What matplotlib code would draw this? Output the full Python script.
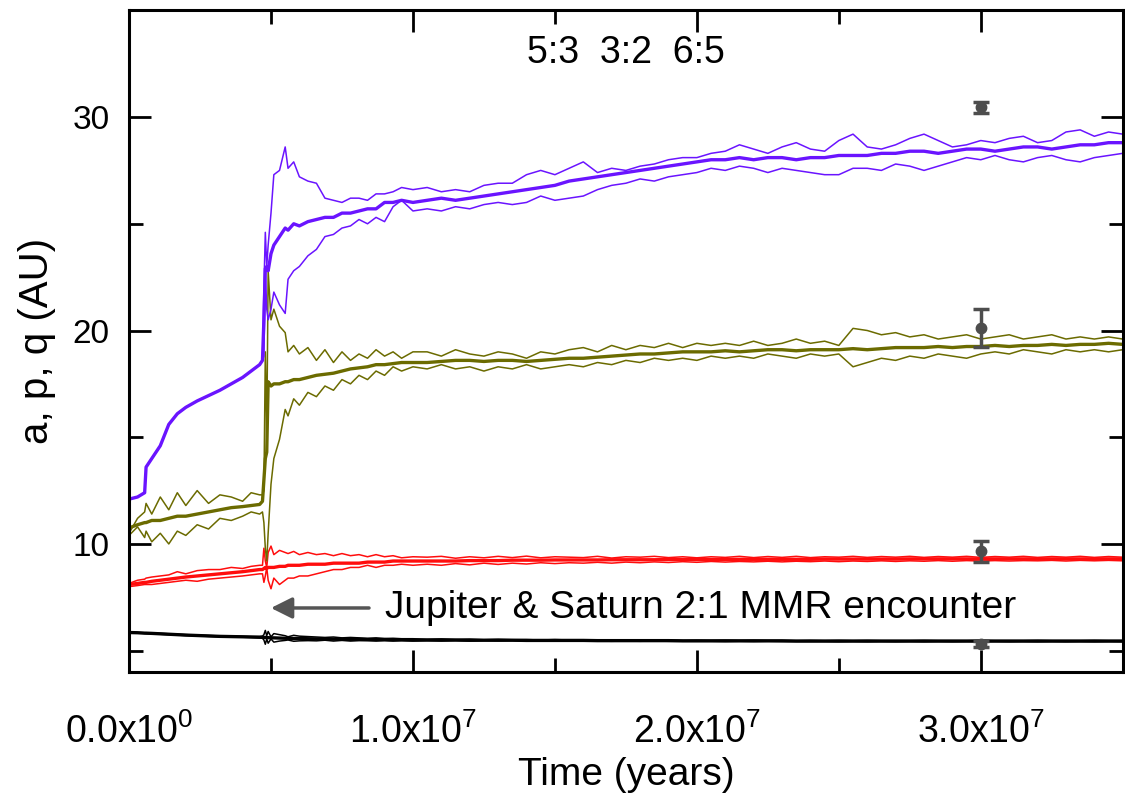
import numpy as np
import matplotlib
matplotlib.use("Agg")
import matplotlib.pyplot as plt
from matplotlib.ticker import MultipleLocator, FuncFormatter

plt.rcParams['font.family'] = ['Liberation Sans', 'DejaVu Sans']
plt.rcParams['mathtext.default'] = 'regular'

# time grids (Myr): before encounter, encounter, late
t_pre = [0, 0.3, 0.55, 0.6, 0.8, 1.1, 1.4, 1.7, 2.0, 2.4, 2.8, 3.2, 3.6, 4.0, 4.3, 4.6, 4.7]
t_enc = [4.75, 4.8, 4.85, 4.9, 5.0, 5.1, 5.3, 5.5, 5.6, 5.8, 6.0, 6.3, 6.6, 6.9, 7.2, 7.5,
         7.8, 8.1, 8.4, 8.7, 9.0, 9.3, 9.6, 10.0]
t_late = list(np.arange(10.5, 35.01, 0.5))

# outer ice giant (purple): a, Q (aphelion), q (perihelion)
purple_pre = [12.1, 12.2, 12.4, 13.6, 14.0, 14.6, 15.6, 16.1, 16.4, 16.7, 16.95, 17.2, 17.5,
              17.8, 18.1, 18.4, 18.6]
purple_a = [20.5, 22.9, 23.0, 22.8, 23.6, 24.0, 24.4, 24.8, 24.7, 25.0, 24.9, 25.1, 25.2, 25.3,
            25.3, 25.5, 25.5, 25.6, 25.7, 25.7, 26.0, 26.0, 26.1, 26.0,
            26.1, 26.2, 26.1, 26.2, 26.3, 26.4, 26.5, 26.6, 26.7, 26.8,
            27.0, 27.1, 27.2, 27.3, 27.4, 27.5, 27.6, 27.7, 27.8, 27.9,
            28.0, 28.0, 28.1, 28.0, 28.1, 28.1, 28.0, 28.1, 28.1, 28.2,
            28.2, 28.2, 28.3, 28.3, 28.4, 28.4, 28.3, 28.4, 28.5, 28.5,
            28.4, 28.5, 28.6, 28.6, 28.5, 28.6, 28.7, 28.7, 28.8, 28.8]
purple_Q = [22.0, 24.6, 23.0, 24.0, 25.5, 27.3, 27.5, 28.6, 27.6, 27.9, 27.2, 27.0, 26.9, 26.2,
            26.1, 26.0, 26.2, 26.2, 26.1, 26.4, 26.4, 26.5, 26.7, 26.6,
            26.7, 26.5, 26.6, 26.5, 26.8, 26.9, 26.9, 27.3, 27.5, 27.3,
            27.6, 27.9, 27.4, 27.6, 27.5, 27.7, 27.8, 28.0, 28.1, 28.1,
            28.3, 28.4, 28.7, 28.5, 28.3, 28.6, 28.8, 28.5, 28.4, 28.9,
            29.2, 28.6, 28.5, 28.7, 29.0, 29.2, 28.9, 28.6, 28.7, 28.9,
            28.8, 29.0, 29.1, 28.8, 28.9, 29.3, 29.4, 29.1, 29.3, 29.2]
purple_q = [18.8, 22.8, 21.0, 20.5, 21.0, 21.8, 21.2, 20.8, 22.4, 22.8, 23.0, 23.5, 23.8, 24.4,
            24.5, 24.8, 24.9, 25.2, 25.0, 25.3, 25.1, 25.8, 26.1, 25.6,
            25.7, 25.6, 25.8, 25.7, 25.9, 26.0, 25.9, 26.0, 26.3, 26.1,
            26.2, 26.3, 26.6, 26.8, 26.9, 27.1, 27.0, 27.2, 27.3, 27.4,
            27.6, 27.5, 27.7, 27.6, 27.4, 27.6, 27.5, 27.4, 27.3, 27.3,
            27.6, 27.6, 27.5, 27.8, 27.7, 27.5, 27.7, 27.9, 28.1, 28.0,
            28.2, 28.0, 27.9, 28.1, 28.2, 28.0, 27.9, 28.1, 28.2, 28.3]

# inner ice giant (olive)
olive_a = [10.75, 10.9, 11.0, 11.0, 11.1, 11.1, 11.2, 11.3, 11.3, 11.4, 11.5, 11.6, 11.7, 11.75,
           11.8, 11.85, 12.0,
           13.0, 14.0, 14.3, 17.6, 17.4, 17.5, 17.5, 17.6, 17.6, 17.7, 17.7, 17.8, 17.9, 17.95,
           18.0, 18.1, 18.2, 18.25, 18.3, 18.4, 18.4, 18.45, 18.5, 18.5,
           18.5, 18.55, 18.6, 18.6, 18.55, 18.6, 18.6, 18.55, 18.6, 18.65,
           18.7, 18.7, 18.75, 18.8, 18.85, 18.9, 18.9, 18.95, 19.0, 19.0,
           19.0, 19.05, 19.0, 19.05, 19.1, 19.1, 19.05, 19.1, 19.1, 19.1,
           19.15, 19.1, 19.15, 19.2, 19.2, 19.2, 19.25, 19.2, 19.25, 19.25,
           19.3, 19.25, 19.3, 19.3, 19.35, 19.3, 19.35, 19.35, 19.4, 19.35]
olive_Q = [10.5, 11.2, 11.5, 11.9, 11.4, 12.2, 11.6, 12.4, 11.8, 12.5, 11.9, 12.3, 12.2, 12.0,
           12.4, 12.3, 12.3,
           12.5, 19.0, 15.0, 22.8, 20.5, 21.0, 20.2, 19.9, 19.0, 19.3, 18.9, 19.2, 18.6, 19.1,
           18.5, 19.0, 18.6, 18.9, 18.7, 19.1, 18.8, 19.0, 18.7, 19.0,
           19.0, 18.8, 19.1, 18.9, 18.8, 19.0, 18.9, 18.7, 19.0, 18.9,
           19.1, 19.2, 19.0, 19.3, 19.1, 19.3, 19.2, 19.4, 19.2, 19.4,
           19.3, 19.4, 19.3, 19.5, 19.3, 19.4, 19.6, 19.4, 19.5, 19.3,
           20.1, 20.0, 19.8, 19.9, 19.7, 19.8, 19.6, 19.7, 19.8, 19.6,
           19.7, 19.8, 19.6, 19.7, 19.8, 19.6, 19.7, 19.6, 19.7, 19.6]
olive_q = [10.4, 10.8, 10.3, 10.6, 10.1, 10.5, 10.0, 10.6, 10.4, 10.9, 10.7, 11.2, 11.1, 11.3,
           11.5, 11.4, 11.5,
           11.0, 9.8, 9.2, 10.5, 12.8, 14.0, 14.9, 16.3, 16.0, 16.8, 16.5, 17.1, 16.9, 17.4,
           17.2, 17.7, 17.5, 17.9, 17.7, 18.1, 17.9, 18.3, 18.1, 18.3,
           18.2, 18.4, 18.2, 18.3, 18.1, 18.3, 18.2, 18.4, 18.2, 18.3,
           18.4, 18.3, 18.5, 18.4, 18.6, 18.5, 18.7, 18.6, 18.7, 18.6,
           18.8, 18.7, 18.8, 18.7, 18.9, 18.8, 18.7, 18.9, 18.8, 18.9,
           18.3, 18.5, 18.7, 18.6, 18.8, 18.7, 18.9, 18.8, 18.7, 18.9,
           19.0, 18.9, 19.1, 19.0, 18.9, 19.1, 19.0, 19.1, 19.0, 19.1]

# Saturn (red)
red_a = [8.1, 8.15, 8.2, 8.2, 8.25, 8.3, 8.35, 8.4, 8.45, 8.5, 8.55, 8.6, 8.65, 8.7, 8.75, 8.8, 8.8,
         8.85, 8.9, 8.85, 8.9, 8.9, 8.9, 8.95, 8.95, 9.0, 9.0, 9.0, 9.05, 9.05, 9.05, 9.1, 9.1,
         9.1, 9.1, 9.15, 9.15, 9.15, 9.2, 9.2, 9.2,
         9.2, 9.2, 9.2, 9.22, 9.22, 9.22, 9.24, 9.24, 9.24, 9.25,
         9.25, 9.25, 9.25, 9.26, 9.26, 9.26, 9.26, 9.27, 9.27, 9.27,
         9.27, 9.27, 9.28, 9.28, 9.28, 9.28, 9.28, 9.28, 9.29, 9.29,
         9.29, 9.29, 9.29, 9.29, 9.3, 9.3, 9.3, 9.3, 9.3, 9.3,
         9.3, 9.3, 9.3, 9.3, 9.3, 9.3, 9.3, 9.3, 9.3, 9.3]
red_Q = [8.15, 8.3, 8.35, 8.4, 8.45, 8.5, 8.55, 8.7, 8.6, 8.75, 8.8, 8.8, 8.9, 8.85, 8.95, 9.0, 9.0,
         9.8, 9.2, 8.9, 9.6, 9.9, 9.5, 9.7, 9.6, 9.55, 9.65, 9.5, 9.6, 9.5, 9.55, 9.45, 9.55,
         9.45, 9.5, 9.4, 9.5, 9.4, 9.45, 9.35, 9.4,
         9.38, 9.42, 9.33, 9.4, 9.35, 9.42, 9.36, 9.43, 9.35, 9.4,
         9.38, 9.36, 9.42, 9.34, 9.4, 9.38, 9.42, 9.36, 9.4, 9.35,
         9.4, 9.37, 9.42, 9.36, 9.41, 9.37, 9.42, 9.36, 9.4, 9.38,
         9.42, 9.37, 9.41, 9.38, 9.42, 9.37, 9.41, 9.38, 9.42, 9.37,
         9.41, 9.38, 9.42, 9.37, 9.41, 9.38, 9.42, 9.37, 9.41, 9.38]
red_q = [8.0, 8.05, 8.1, 8.1, 8.1, 8.15, 8.2, 8.25, 8.3, 8.25, 8.35, 8.4, 8.45, 8.5, 8.55, 8.6, 8.6,
         8.2, 8.5, 8.9, 8.3, 7.9, 8.4, 8.1, 8.3, 8.4, 8.4, 8.5, 8.5, 8.6, 8.7, 8.8, 8.8,
         8.9, 8.9, 9.0, 8.9, 9.0, 9.0, 9.05, 9.0,
         9.05, 9.0, 9.08, 9.02, 9.1, 9.04, 9.1, 9.06, 9.12, 9.08,
         9.12, 9.1, 9.14, 9.1, 9.15, 9.12, 9.16, 9.13, 9.17, 9.14,
         9.18, 9.15, 9.18, 9.16, 9.19, 9.16, 9.19, 9.17, 9.2, 9.17,
         9.2, 9.18, 9.21, 9.18, 9.21, 9.19, 9.22, 9.19, 9.22, 9.2,
         9.22, 9.2, 9.22, 9.21, 9.23, 9.2, 9.23, 9.21, 9.23, 9.21]

# Jupiter (black)
black_a = [5.85, 5.84, 5.82, 5.82, 5.81, 5.79, 5.77, 5.75, 5.73, 5.71, 5.69, 5.67, 5.66, 5.65,
           5.64, 5.63, 5.63,
           5.62, 5.62, 5.61, 5.61, 5.6, 5.6, 5.59, 5.58, 5.58, 5.57, 5.57, 5.56, 5.55, 5.55,
           5.54, 5.54, 5.53, 5.53, 5.52, 5.52, 5.52, 5.51, 5.51, 5.5,
           5.5, 5.5, 5.5, 5.49, 5.49, 5.49, 5.49, 5.48, 5.48, 5.48,
           5.48, 5.48, 5.47, 5.47, 5.47, 5.47, 5.47, 5.47, 5.46, 5.46,
           5.46, 5.46, 5.46, 5.46, 5.46, 5.46, 5.45, 5.45, 5.45, 5.45,
           5.45, 5.45, 5.45, 5.45, 5.45, 5.45, 5.45, 5.45, 5.45, 5.45,
           5.45, 5.45, 5.45, 5.45, 5.45, 5.45, 5.45, 5.45, 5.45, 5.45]
black_Q = [5.86, 5.85, 5.84, 5.84, 5.83, 5.81, 5.79, 5.77, 5.75, 5.73, 5.71, 5.69, 5.68, 5.67,
           5.66, 5.66, 5.68,
           5.75, 5.95, 5.7, 5.9, 5.65, 5.8, 5.75, 5.7, 5.65, 5.72, 5.68, 5.66, 5.64, 5.62,
           5.64, 5.6, 5.62, 5.6, 5.58, 5.6, 5.57, 5.58, 5.56, 5.56,
           5.53, 5.55, 5.52, 5.54, 5.51, 5.53, 5.51, 5.52, 5.5, 5.52,
           5.5, 5.51, 5.49, 5.51, 5.49, 5.5, 5.49, 5.5, 5.48, 5.49,
           5.48, 5.49, 5.48, 5.49, 5.48, 5.48, 5.47, 5.48, 5.47, 5.48,
           5.47, 5.48, 5.47, 5.47, 5.47, 5.48, 5.47, 5.47, 5.47, 5.48,
           5.47, 5.47, 5.47, 5.48, 5.47, 5.47, 5.47, 5.48, 5.47, 5.47]
black_q = [5.84, 5.83, 5.81, 5.8, 5.79, 5.77, 5.75, 5.73, 5.71, 5.69, 5.67, 5.65, 5.64, 5.63,
           5.62, 5.6, 5.58,
           5.5, 5.3, 5.55, 5.35, 5.55, 5.4, 5.45, 5.48, 5.5, 5.44, 5.46, 5.47, 5.46, 5.49,
           5.45, 5.48, 5.45, 5.47, 5.47, 5.45, 5.47, 5.45, 5.47, 5.45,
           5.47, 5.45, 5.47, 5.45, 5.47, 5.46, 5.47, 5.45, 5.46, 5.45,
           5.46, 5.45, 5.45, 5.44, 5.45, 5.44, 5.45, 5.44, 5.44, 5.44,
           5.44, 5.43, 5.44, 5.43, 5.44, 5.43, 5.43, 5.43, 5.43, 5.42,
           5.43, 5.42, 5.43, 5.42, 5.43, 5.42, 5.43, 5.42, 5.43, 5.42,
           5.43, 5.42, 5.43, 5.42, 5.43, 5.42, 5.43, 5.42, 5.43, 5.42]

# observed values with error bars at 30 Myr
obs_t = [30.0, 30.0, 30.0, 30.0]
obs_val = [30.45, 20.1, 9.65, 5.3]
obs_err_lo = [0.25, 0.85, 0.5, 0.15]
obs_err_hi = [0.25, 0.9, 0.5, 0.15]

resonances = "5:3  3:2  6:5"
arrow_label = "Jupiter & Saturn 2:1 MMR encounter"

t_all = np.array(t_pre + t_enc + t_late) * 1e6

fig = plt.figure(figsize=(11.25, 7.95), dpi=100)
ax = fig.add_axes([0.1147, 0.1547, 0.8833, 0.8323])

planets = [
    ('black', black_a, black_Q, black_q),
    ('#ff0d0d', red_a, red_Q, red_q),
    ('#6b6b00', olive_a, olive_Q, olive_q),
    ('#6a14ff', purple_pre + purple_a, purple_pre + purple_Q, purple_pre + purple_q),
]
for color, a, Q, q in planets:
    ax.plot(t_all, Q, color=color, lw=1.1)
    ax.plot(t_all, q, color=color, lw=1.1)
    ax.plot(t_all, a, color=color, lw=2.4)

ax.errorbar(np.array(obs_t) * 1e6, obs_val, yerr=[obs_err_lo, obs_err_hi], fmt='o',
            color='#4d4d4d', ms=7.5, elinewidth=2.5, capsize=6, capthick=2.5, zorder=5)

ax.set_xlim(0, 3.5e7)
ax.set_ylim(4, 35)
ax.xaxis.set_major_locator(MultipleLocator(1e7))
ax.xaxis.set_minor_locator(MultipleLocator(5e6))
ax.yaxis.set_major_locator(MultipleLocator(10))
ax.yaxis.set_minor_locator(MultipleLocator(5))


def xfmt(v, pos):
    if v == 0:
        return '0.0x10$^{0}$'
    return '%.1fx10$^{7}$' % (v / 1e7)


ax.xaxis.set_major_formatter(FuncFormatter(xfmt))
ax.tick_params(which='both', direction='in', top=True, right=True, width=2)
ax.tick_params(which='major', length=16, labelsize=24)
ax.tick_params(which='minor', length=10)
ax.tick_params(axis='x', which='major', pad=30, labelsize=27)
ax.tick_params(axis='y', which='major', pad=14)
for s in ax.spines.values():
    s.set_linewidth(2.2)

ax.set_xlabel('Time (years)', fontsize=28)
ax.xaxis.set_label_coords(0.5, -0.128)
ax.set_ylabel('a, p, q (AU)', fontsize=29, labelpad=12)

ax.text(1.75e7, 33.0, resonances, fontsize=27, ha='center', va='center')
ax.annotate('', xy=(0.49e7, 7.0), xytext=(0.855e7, 7.0),
            arrowprops=dict(arrowstyle='-|>', color='#555555', lw=2.5, mutation_scale=32))
ax.text(0.9e7, 7.0, arrow_label, fontsize=28, ha='left', va='center')

fig.savefig('out.png', dpi=100)
